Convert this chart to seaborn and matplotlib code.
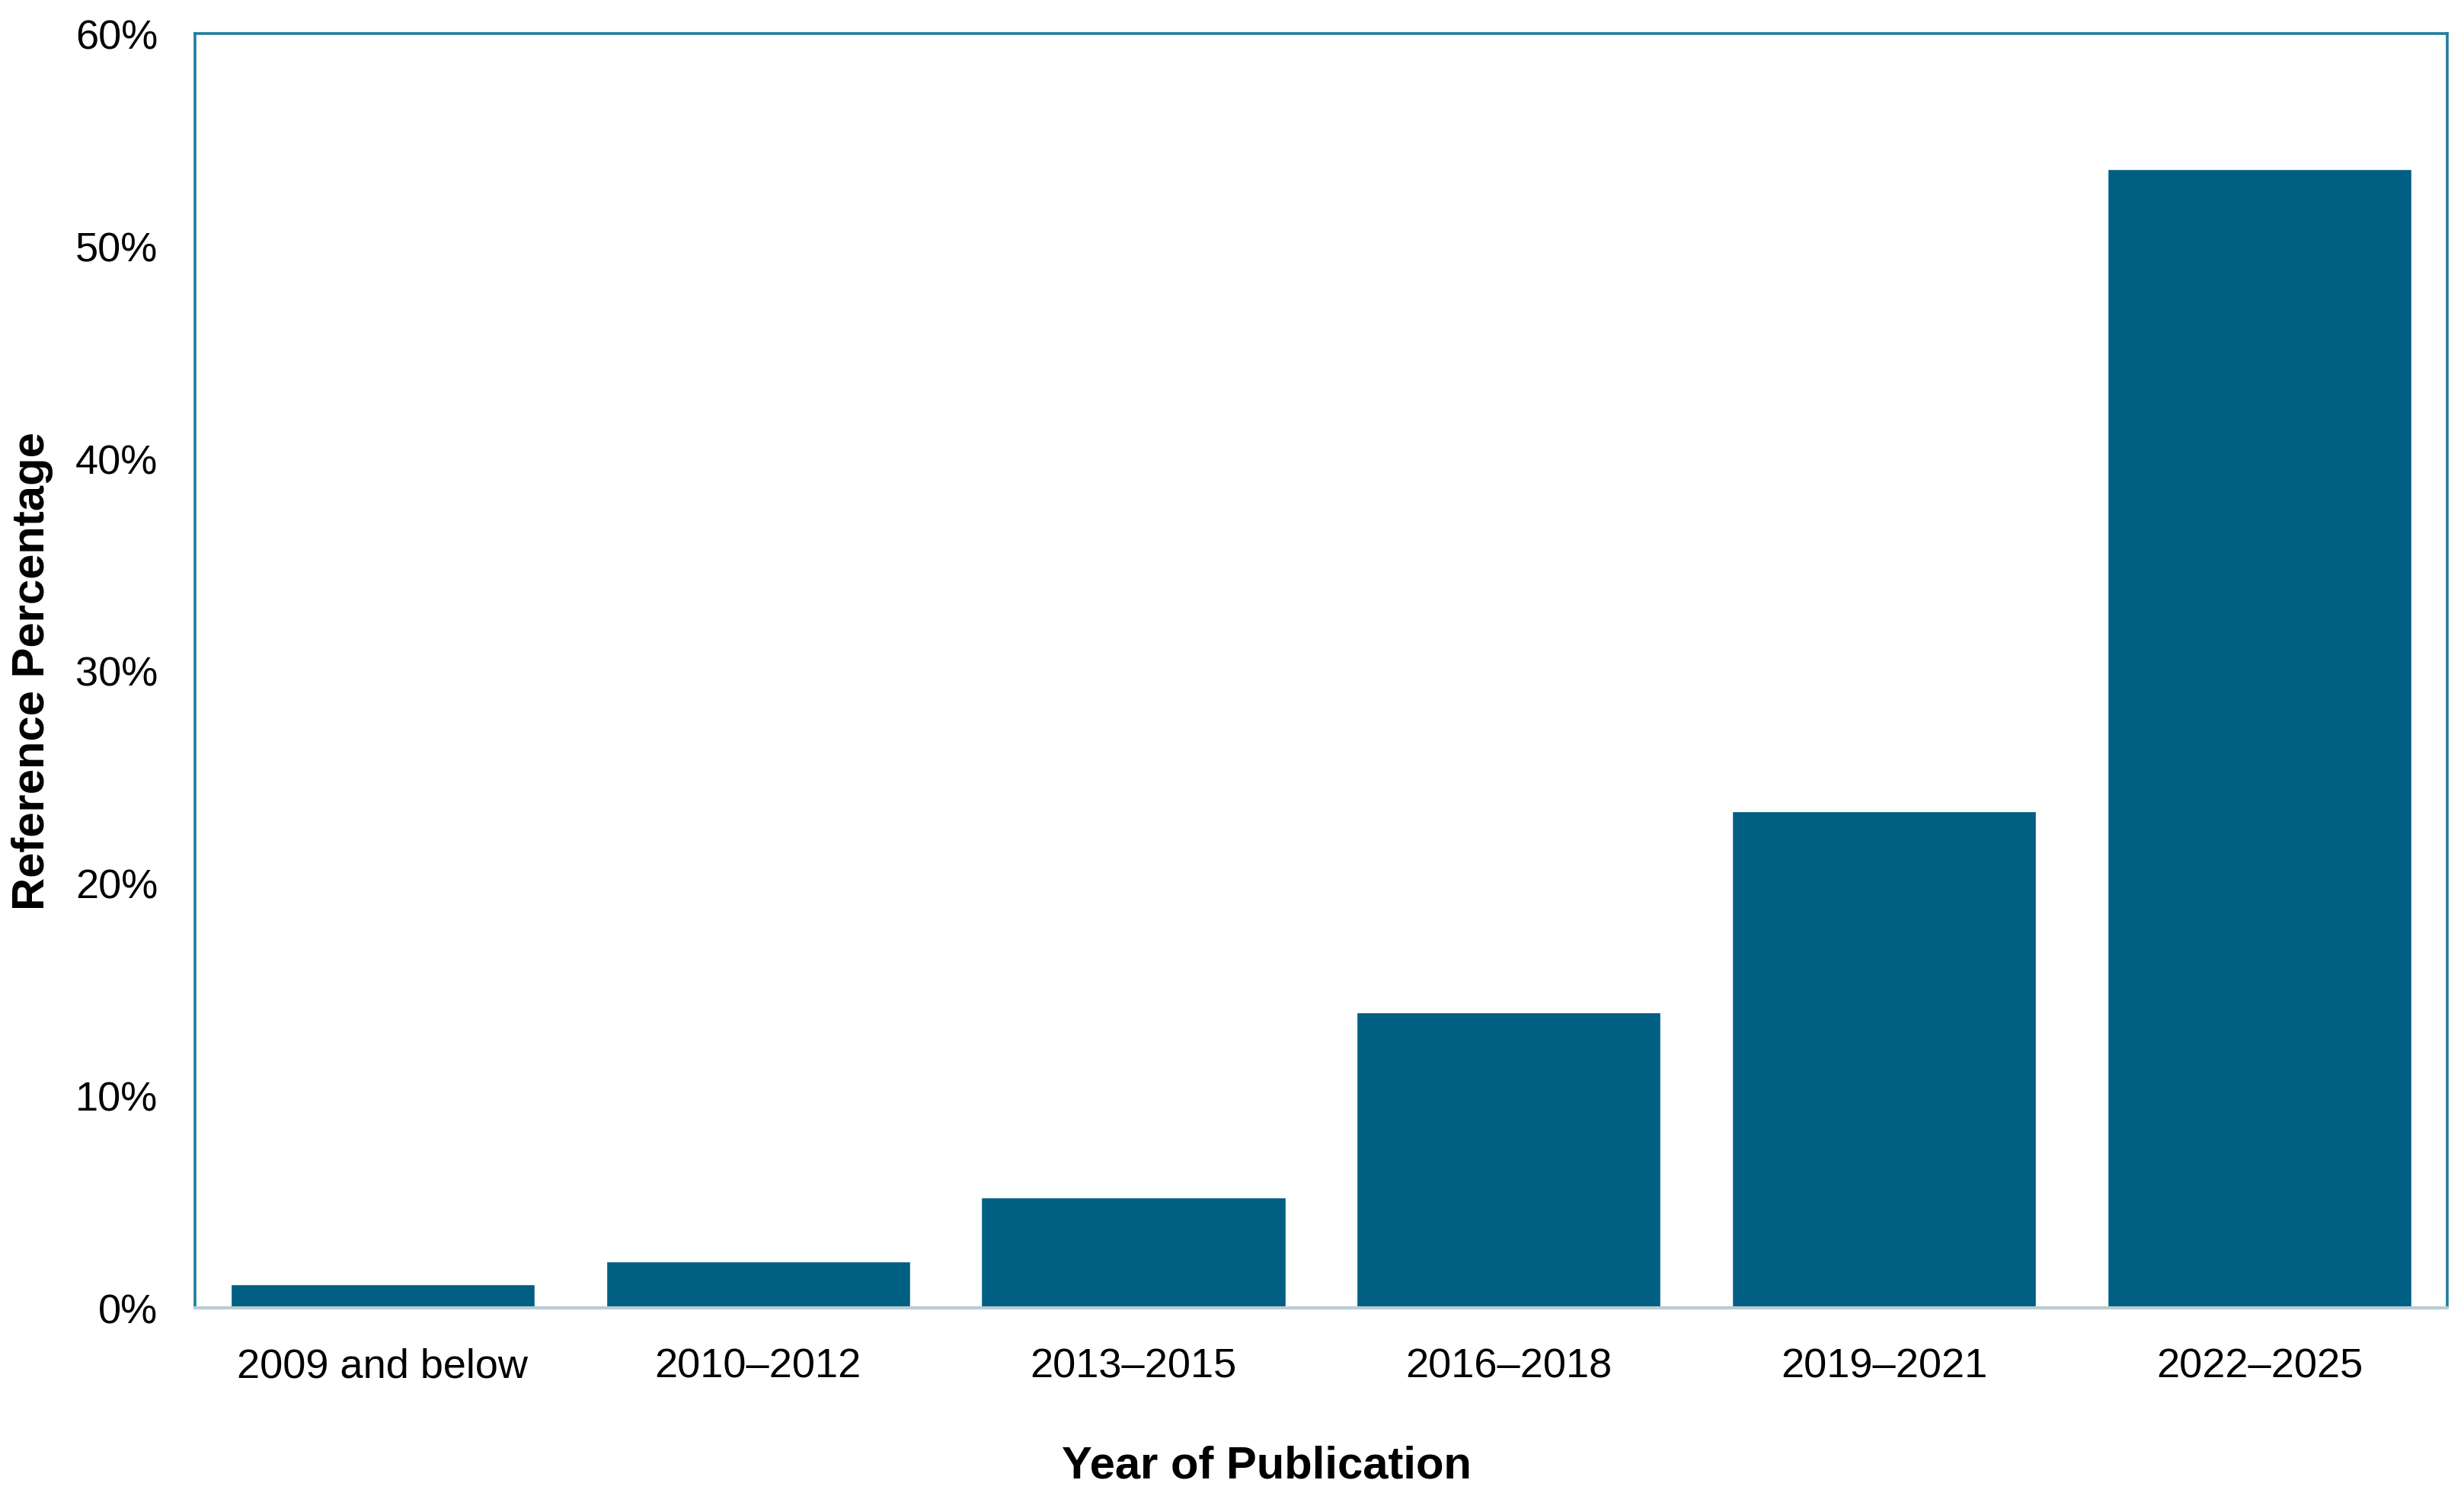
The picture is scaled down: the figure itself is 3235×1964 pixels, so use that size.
import matplotlib
matplotlib.use('Agg')
import matplotlib.pyplot as plt
from matplotlib.ticker import PercentFormatter
import pandas as pd
import seaborn as sns

# values (percent of references)
periods = ['2009 and below', '2010\u20132012', '2013\u20132015',
           '2016\u20132018', '2019\u20132021', '2022\u20132025']
share = [1.1, 2.2, 5.2, 13.9, 23.4, 53.6]
y_ticks = [0, 10, 20, 30, 40, 50, 60]


def plot_reference_share():
    sns.set_style('white')
    plt.rcParams['font.family'] = ['Liberation Sans', 'DejaVu Sans']

    df = pd.DataFrame({'period': periods, 'share': share})

    fig = plt.figure(figsize=(32.35, 19.65), dpi=100)
    ax = fig.add_axes([0.0791, 0.1257, 0.9141, 0.8514])

    sns.barplot(data=df, x='period', y='share', color='#005F83',
                saturation=1, width=0.81, ax=ax)

    ax.set_xlim(-0.5, len(periods) - 0.5)
    ax.set_ylim(0, 60)
    ax.set_yticks(y_ticks)
    ax.yaxis.set_major_formatter(PercentFormatter(decimals=0))
    ax.tick_params(axis='both', length=0, labelsize=39, colors='black')
    ax.tick_params(axis='y', pad=35)
    ax.tick_params(axis='x', pad=37)

    for side in ['left', 'top', 'right']:
        ax.spines[side].set_color('#1E7E9E')
        ax.spines[side].set_linewidth(2.6)
        ax.spines[side].set_visible(True)
    ax.spines['bottom'].set_color('#B9CCD5')
    ax.spines['bottom'].set_linewidth(3)

    ax.set_xlabel('Year of Publication', fontsize=43, fontweight='bold', color='black')
    ax.set_ylabel('Reference Percentage', fontsize=43, fontweight='bold', color='black')
    ax.xaxis.set_label_coords(0.476, -0.1235)
    ax.xaxis.label.set_va('center')
    ax.yaxis.set_label_coords(-0.0720, 0.5)
    ax.yaxis.label.set_va('center')

    fig.savefig('out.png', dpi=100)


if __name__ == '__main__':
    plot_reference_share()
